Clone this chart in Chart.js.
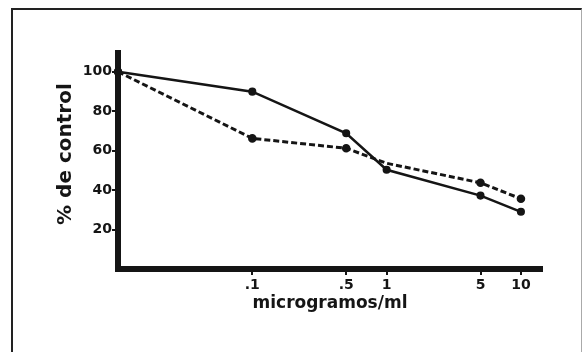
<!DOCTYPE html>
<html>
<head>
<meta charset="utf-8">
<script src="https://cdn.jsdelivr.net/npm/chart.js@4/dist/chart.umd.min.js"></script>
<style>
  html, body { margin: 0; padding: 0; background: #ffffff; }
  #wrap { position: relative; width: 584px; height: 352px; overflow: hidden; background: #ffffff; }
  #frame { position: absolute; left: 11px; top: 8px; width: 568px; height: 400px;
           border-left: 2px solid #222; border-top: 2px solid #222; border-right: 1px solid #aaa; }
  canvas { position: absolute; left: 0; top: 0; }
</style>
</head>
<body>
<div id="wrap">
  <div id="frame"></div>
  <canvas id="c" width="584" height="352"></canvas>
</div>
<script>
// concentration (microgramos/ml); the first point is the control, plotted at the axis origin
const concentrations = [0.01, 0.1, 0.5, 1, 5, 10];
const solidSeries  = [100, 89.9, 68.8, 50.3, 37.2, 29.0];
const dashedSeries = [100, 66.2, 61.2, 53.6, 43.7, 35.6];
const xTickValues = [0.1, 0.5, 1, 5, 10];
const xTickLabels = ['.1', '.5', '1', '5', '10'];
const yTickValues = [20, 40, 60, 80, 100];

const ink = '#151515';
const toPts = arr => arr.map((v, i) => ({ x: concentrations[i], y: v }));

new Chart(document.getElementById('c'), {
  type: 'line',
  data: {
    datasets: [
      { data: toPts(solidSeries), borderColor: ink, backgroundColor: ink, borderWidth: 2.5,
        pointRadius: 2.8, pointHoverRadius: 2.8, tension: 0, clip: false },
      { data: toPts(dashedSeries), borderColor: ink, backgroundColor: ink, borderWidth: 3,
        borderDash: [6, 3], pointRadius: [2.8, 2.8, 2.8, 0, 2.8, 2.8], pointHoverRadius: 2.8,
        tension: 0, clip: false }
    ]
  },
  options: {
    responsive: false,
    animation: false,
    devicePixelRatio: 1,
    layout: { padding: { top: 53, right: 42, left: 0, bottom: 0 } },
    plugins: { legend: { display: false }, tooltip: { enabled: false } },
    scales: {
      x: {
        type: 'logarithmic',
        min: 0.01,
        max: 14.35,
        afterBuildTicks: s => { s.ticks = xTickValues.map(v => ({ value: v })); },
        afterFit: s => { s.height = 83; },
        border: { display: true, color: ink, width: 6 },
        grid: { display: true, drawOnChartArea: false, drawTicks: true, tickLength: 6, color: ink, lineWidth: 2 },
        ticks: {
          autoSkip: false, maxRotation: 0, padding: 2, color: ink,
          font: { family: 'DejaVu Sans', size: 14, weight: 'bold' },
          callback: (v, i) => xTickLabels[i]
        },
        title: {
          display: true, text: 'microgramos/ml', color: ink,
          font: { family: 'DejaVu Sans', size: 17, weight: 'bold' },
          padding: { top: 0, bottom: 38 }
        }
      },
      y: {
        min: 0,
        max: 109.5,
        afterBuildTicks: s => { s.ticks = yTickValues.map(v => ({ value: v })); },
        afterFit: s => { s.width = 118; },
        border: { display: true, color: ink, width: 6 },
        grid: { display: true, drawOnChartArea: false, drawTicks: true, tickLength: 6, color: ink, lineWidth: 2 },
        ticks: {
          padding: 0, color: ink,
          font: { family: 'DejaVu Sans', size: 14, weight: 'bold' }
        },
        title: {
          display: true, text: '  % de control', color: ink,
          font: { family: 'DejaVu Sans', size: 20, weight: 'bold' },
          padding: { top: 54, bottom: 0 }
        }
      }
    }
  }
});
</script>
</body>
</html>
